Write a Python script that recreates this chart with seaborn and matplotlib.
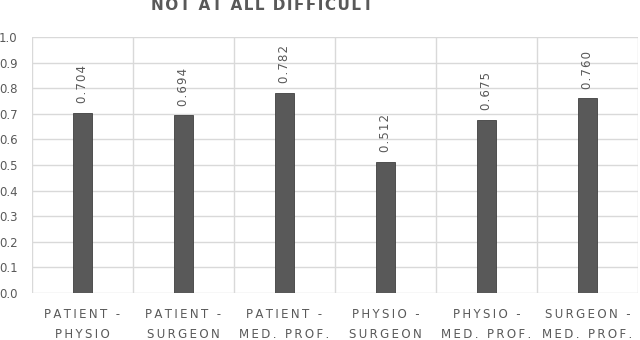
import matplotlib
matplotlib.use("Agg")
import matplotlib.pyplot as plt
import seaborn as sns
import pandas as pd
import numpy as np

categories = ["PATIENT -\nPHYSIO", "PATIENT -\nSURGEON", "PATIENT -\nMED. PROF.",
              "PHYSIO -\nSURGEON", "PHYSIO -\nMED. PROF.", "SURGEON -\nMED. PROF."]
values = [0.704, 0.694, 0.782, 0.512, 0.675, 0.760]
value_labels = ["0.704", "0.694", "0.782", "0.512", "0.675", "0.760"]
yticks = [0.0, 0.1, 0.2, 0.3, 0.4, 0.5, 0.6, 0.7, 0.8, 0.9, 1.0]
title = "NOT AT ALL DIFFICULT"

sns.set_theme(style="white")
plt.rcParams['font.family'] = ['DejaVu Sans']

df = pd.DataFrame({"cat": categories, "val": values})

fig = plt.figure(figsize=(6.4, 3.4), dpi=100)
ax = fig.add_axes([32/640, 1-293/340, (638-32)/640, (293-37)/340])

sns.barplot(data=df, x="cat", y="val", color="#595959", width=0.18,
            saturation=1, ax=ax, edgecolor="#404040", linewidth=0.6)

ax.set_ylim(0, 1.0)
ax.set_xlim(-0.5, len(categories) - 0.5)
ax.set_yticks(yticks)
ax.set_yticklabels([f"{t:.1f}" for t in yticks])
ax.set_xlabel("")
ax.set_ylabel("")

ax.set_xticks(np.arange(len(categories)))
ax.set_xticklabels([])
ax.set_xticks(np.arange(-0.5, len(categories)), minor=True)
ax.grid(True, axis="y", color="#d9d9d9", linewidth=1)
ax.grid(True, axis="x", which="minor", color="#d9d9d9", linewidth=1)
ax.grid(False, axis="x", which="major")
ax.set_axisbelow(True)
for s in ax.spines.values():
    s.set_visible(False)
ax.tick_params(axis="y", length=7.5, color="#d9d9d9", pad=3, labelsize=8.5,
               labelcolor="#595959", width=1)
ax.tick_params(axis="x", which="both", length=0)


def spaced(s, sep="\u2009"):
    return sep.join(list(s))


for i, c in enumerate(categories):
    l1, l2 = c.split("\n")
    ax.text(i, -21/256, spaced(l1), ha="center", va="center", fontsize=8.5,
            color="#595959", transform=ax.get_xaxis_transform())
    ax.text(i, -41/256, spaced(l2), ha="center", va="center", fontsize=8.5,
            color="#595959", transform=ax.get_xaxis_transform())

for i, (v, lab) in enumerate(zip(values, value_labels)):
    ax.annotate(spaced(lab, "\u200a"), (i, v), xytext=(0, 7), textcoords="offset points",
                rotation=90, ha="center", va="bottom", fontsize=8.5,
                color="#595959")

fig.text(262/640, 1 - 10/340, spaced(title, "\u200a"), ha="center", va="baseline",
         fontsize=11, fontweight="bold", color="#595959")

fig.savefig("out.png", dpi=100)
